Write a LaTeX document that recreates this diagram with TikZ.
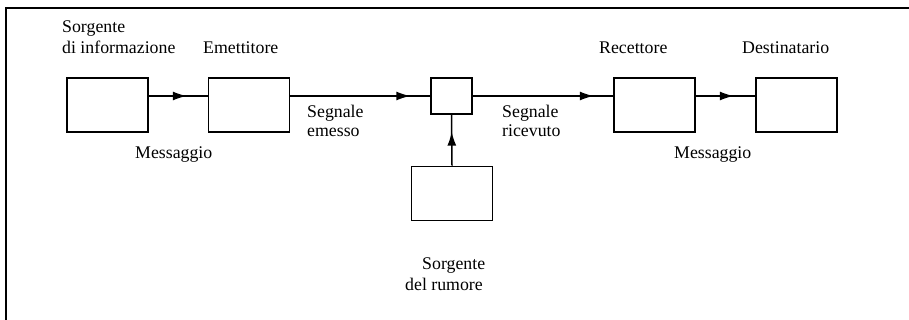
\documentclass[tikz,border=0pt]{standalone}
\usepackage{fontspec}
\setmainfont{Liberation Serif}
\usetikzlibrary{arrows.meta,decorations.markings}
\begin{document}
\begin{tikzpicture}[x=1pt,y=-1pt,
  blk/.style={draw,line width=1.6pt,minimum width=81pt,minimum height=54pt,inner sep=0pt},
  lbl/.style={anchor=base west,inner sep=0pt,font=\fontsize{17.8pt}{20pt}\selectfont},
  conn/.style={line width=1.5pt,postaction={decorate},decoration={markings,
     mark=at position #1 with {\arrow{Latex[length=14pt,width=9pt]}}}}]
\useasboundingbox (0,0) rectangle (909,320);
\draw[line width=2.2pt] (6,321) -- (6,8) -- (910,8);
% boxes
\node[blk] (src) at (107.5,105) {};
\node[blk] (tx) at (249,105) {};
\node[draw,line width=1.6pt,minimum width=41pt,minimum height=36pt,inner sep=0pt] (ch) at (451.5,96) {};
\node[blk] (noise) at (452,193.5) {};
\node[blk] (rx) at (654.5,105) {};
\node[blk] (dst) at (796.5,105) {};
% connectors
\draw[conn=38pt] (src.east|-ch) -- (tx.west|-ch);
\draw[conn=120pt] (tx.east|-ch) -- (ch.west);
\draw[conn=121pt] (ch.east) -- (rx.west|-ch);
\draw[conn=38pt] (rx.east|-ch) -- (dst.west|-ch);
\draw[conn=34pt] (noise.north) -- (ch.south);
% labels
\node[lbl] (l1) at (62,33) {Sorgente};
\node[lbl] (l2) at (62,54) {di informazione};
\node[lbl] (l3) at (203,54) {Emettitore};
\node[lbl] (l4) at (135,159) {Messaggio};
\node[lbl] (l5) at (307,118) {Segnale};
\node[lbl] (l6) at (307,137) {emesso};
\node[lbl] (l7) at (502,118) {Segnale};
\node[lbl] (l8) at (502,137) {ricevuto};
\node[lbl] (l9) at (422,269) {Sorgente};
\node[lbl] (l10) at (405,290) {del rumore};
\node[lbl] (l11) at (599,54) {Recettore};
\node[lbl] (l12) at (742,54) {Destinatario};
\node[lbl] (l13) at (674,159) {Messaggio};
\end{tikzpicture}
\end{document}
